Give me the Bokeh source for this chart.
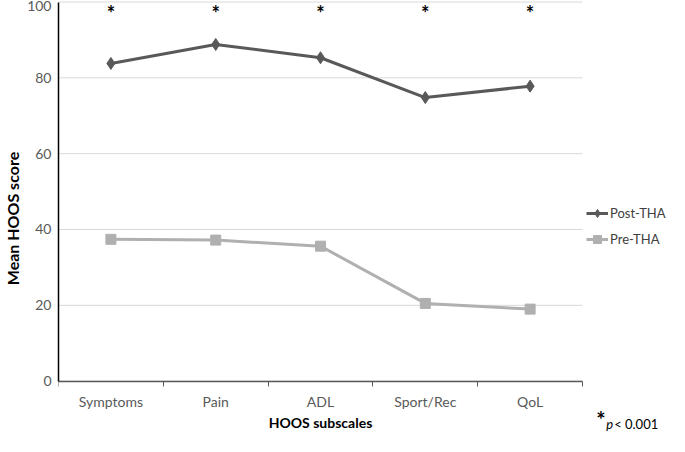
from bokeh.plotting import figure
from bokeh.models import FixedTicker, Legend, LegendItem, Label
from bokeh.core.properties import value
from bokeh.embed import file_html
from bokeh.resources import INLINE

categories = ["Symptoms", "Pain", "ADL", "Sport/Rec", "QoL"]
post_tha = [83.8, 88.8, 85.3, 74.8, 77.8]
pre_tha = [37.4, 37.2, 35.6, 20.5, 19.0]
significance = ["*", "*", "*", "*", "*"]
y_ticks = [0, 20, 40, 60, 80, 100]

FONT = "Lato"
POST_C = "#595959"
PRE_C = "#b0b0b0"
n = len(categories)
xs = [i + 0.5 for i in range(n)]

p = figure(width=669, height=436, output_backend="svg", toolbar_location=None,
           x_range=(0, 5.83), y_range=(-14.6, 100.4),
           min_border_left=40, min_border_right=0, min_border_top=0, min_border_bottom=0)
p.outline_line_color = None
p.background_fill_color = "white"
p.border_fill_color = "white"
p.xgrid.grid_line_color = None
p.ygrid.grid_line_color = None

# horizontal gridlines, limited to the category span
p.segment(x0=[0] * len(y_ticks), x1=[n] * len(y_ticks), y0=y_ticks, y1=y_ticks,
          line_color="#d9d9d9", line_width=1)

# x axis through y = 0
xa = p.xaxis[0]
xa.fixed_location = 0
xa.bounds = (0, n)
xa.ticker = FixedTicker(ticks=xs, minor_ticks=list(range(n + 1)))
xa.major_label_overrides = {x: c for x, c in zip(xs, categories)}
xa.major_tick_out = 0
xa.major_tick_in = 0
xa.minor_tick_out = 5
xa.minor_tick_in = 0
xa.minor_tick_line_color = POST_C
xa.axis_line_color = POST_C
xa.axis_line_width = 1.5
xa.major_label_text_font = FONT
xa.major_label_text_font_size = "14px"
xa.major_label_text_color = "#595959"
xa.major_label_standoff = 7
xa.axis_label = "HOOS subscales"
xa.axis_label_text_font = FONT
xa.axis_label_text_font_size = "14px"
xa.axis_label_text_font_style = "bold"
xa.axis_label_text_color = "black"
xa.axis_label_standoff = 0

ya = p.yaxis[0]
ya.bounds = (0, 100)
ya.ticker = FixedTicker(ticks=y_ticks)
ya.major_tick_out = 0
ya.major_tick_in = 0
ya.minor_tick_line_color = None
ya.axis_line_color = "black"
ya.axis_line_width = 1.5
ya.major_label_text_font = FONT
ya.major_label_text_font_size = "14px"
ya.major_label_text_color = "#595959"
ya.major_label_standoff = 7
ya.axis_label = "Mean HOOS score"
ya.axis_label_text_font = FONT
ya.axis_label_text_font_size = "16px"
ya.axis_label_text_font_style = "bold"
ya.axis_label_text_color = "black"
ya.axis_label_standoff = 2

# series
post_line = p.line(xs, post_tha, line_color=POST_C, line_width=3)
post_mark = p.scatter(xs, post_tha, marker="diamond", size=12, fill_color=POST_C, line_color=POST_C)
pre_line = p.line(xs, pre_tha, line_color=PRE_C, line_width=3)
pre_mark = p.scatter(xs, pre_tha, marker="square", size=10, fill_color=PRE_C, line_color=PRE_C)

p.text(xs, [97.2] * n, text=significance, text_font=value(FONT), text_font_size="20px",
       text_font_style="bold", text_align="center", text_baseline="middle", text_color="black")

legend = Legend(items=[LegendItem(label="Post-THA", renderers=[post_line, post_mark]),
                       LegendItem(label="Pre-THA", renderers=[pre_line, pre_mark])],
                location=(528, 187), border_line_color=None, background_fill_alpha=0,
                label_text_font=FONT, label_text_font_size="13px", label_text_color="#404040",
                glyph_width=22, label_standoff=2, spacing=6, padding=4, margin=0)
p.add_layout(legend, "center")

# significance note
p.add_layout(Label(x=n + 0.13, y=-10.0, text="*", text_font=FONT, text_font_size="22px",
                   text_font_style="bold", text_color="black", text_baseline="middle"))
p.add_layout(Label(x=n + 0.13, y=-11.2, x_offset=10, text="p", text_font=FONT, text_font_size="13px",
                   text_font_style="italic", text_color="black", text_baseline="middle"))
p.add_layout(Label(x=n + 0.13, y=-11.2, x_offset=18, text="< 0.001", text_font=FONT,
                   text_font_size="13px", text_color="black", text_baseline="middle"))

open("out.html", "w").write(file_html(p, INLINE))
